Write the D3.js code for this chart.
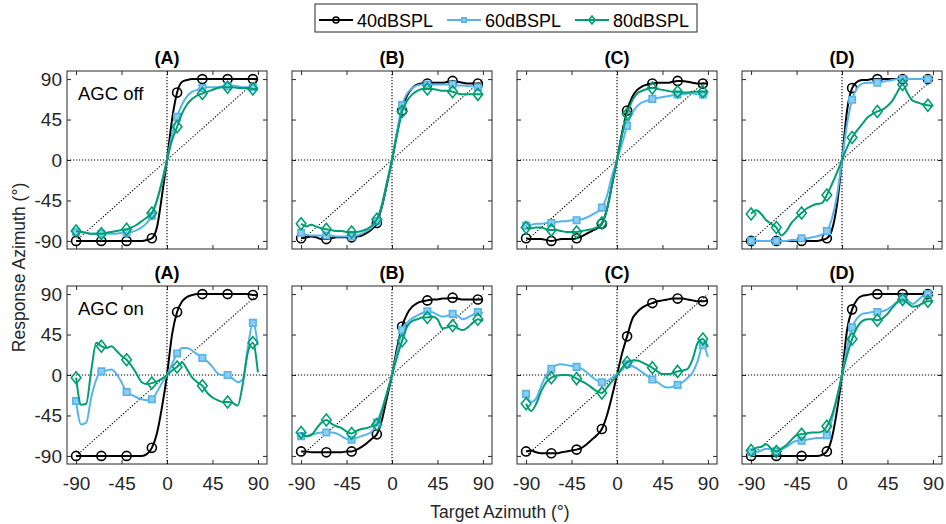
<!DOCTYPE html>
<html>
<head>
<meta charset="utf-8">
<script src="https://cdn.jsdelivr.net/npm/d3@7"></script>
<style>
  body { margin: 0; background: #fff; }
  svg { font-family: "Liberation Sans", Arial, Helvetica, sans-serif; }
</style>
</head>
<body>
<div class="chart"></div>
<script>
// target azimuth grid (deg) and the points that carry a marker
const azimuth = [-90,-85,-80,-75,-70,-65,-60,-55,-50,-45,-40,-35,-30,-25,-20,-15,-10,-5,0,5,10,15,20,25,30,35,40,45,50,55,60,65,70,75,80,85,90];
const markerAzimuth = [-90,-65,-40,-15,10,35,60,85];
const tickValues = [-90,-45,0,45,90];

const panelLabels = ['(A)','(B)','(C)','(D)'];
const rowLabels = ['AGC off','AGC on'];
const seriesNames = ['40dBSPL','60dBSPL','80dBSPL'];

// AGC off
const offA40 = [-90,-90,-90,-90,-90,-90,-90,-90,-90,-90,-90,-90,-90,-90,-89,-87,-75,-40,0,45,75,87,89,90,90,90,90,90,90,90,90,90,90,90,90,90,90];
const offA60 = [-80,-80,-81,-82,-82,-82,-82,-82,-82,-81,-81,-80,-78,-75,-70,-62,-45,-25,0,28,48,62,71,76,78,80,81,81,81,82,82,83,82,81,81,81,81];
const offA80 = [-79,-80,-81,-82,-82,-82,-81,-80,-79,-78,-77,-75,-72,-68,-64,-59,-45,-24,0,22,37,52,62,68,72,74,76,78,80,81,81,81,80,80,80,79,79];

const offB40 = [-87,-86,-85,-86,-88,-88,-87,-86,-86,-86,-86,-85,-84,-81,-77,-70,-52,-27,0,30,55,72,80,84,85,85,86,86,86,87,88,87,86,85,85,85,85];
const offB60 = [-81,-83,-84,-84,-84,-84,-84,-85,-85,-85,-85,-84,-82,-79,-75,-68,-50,-25,0,32,61,74,80,83,84,84,84,84,84,84,84,83,83,82,82,81,81];
const offB80 = [-71,-74,-72,-74,-76,-77,-78,-79,-79,-80,-80,-80,-79,-77,-73,-66,-50,-25,0,28,54,66,73,77,79,79,79,78,77,77,76,74,73,73,73,73,73];

const offC40 = [-87,-88,-88,-88,-89,-90,-89,-88,-88,-88,-87,-85,-82,-79,-76,-71,-55,-28,0,30,55,70,78,82,84,85,86,86,86,87,88,88,87,86,85,85,85];
const offC60 = [-73,-72,-71,-71,-70,-70,-69,-68,-68,-67,-67,-66,-64,-61,-58,-53,-40,-18,0,18,38,52,60,64,66,68,69,70,71,72,73,73,74,74,73,73,73];
const offC80 = [-75,-76,-75,-75,-77,-78,-78,-79,-80,-80,-80,-79,-78,-77,-75,-70,-55,-28,0,28,51,66,74,77,79,80,79,78,77,76,76,75,75,76,76,76,76];

const offD40 = [-90,-90,-90,-90,-90,-90,-90,-90,-90,-90,-90,-90,-90,-90,-89,-87,-78,-50,0,55,80,87,89,89,90,90,90,90,90,90,90,90,90,90,90,90,90];
const offD60 = [-90,-90,-90,-90,-90,-90,-90,-90,-89,-89,-87,-87,-86,-85,-83,-79,-65,-40,0,40,67,80,85,86,86,86,87,88,89,90,90,90,90,90,90,90,90];
const offD80 = [-60,-56,-60,-67,-71,-75,-84,-79,-70,-64,-59,-54,-51,-49,-48,-39,-27,-14,0,14,25,33,40,47,51,54,56,60,66,76,84,74,66,64,62,61,60];

// AGC on
const onA40 = [-90,-90,-90,-90,-90,-90,-90,-90,-90,-90,-90,-90,-90,-90,-88,-81,-65,-36,0,45,70,82,87,89,90,90,90,90,90,90,90,90,90,90,90,89,89];
const onA60 = [-29,-55,-53,-25,-5,4,5,6,1,-8,-19,-22,-25,-27,-28,-27,-19,-9,0,12,24,30,30,27,23,19,15,9,2,0,0,-4,-8,-5,30,58,33];
const onA80 = [-3,-33,-32,5,36,32,30,32,27,21,17,10,1,-8,-10,-9,-7,-4,0,5,9,14,6,-3,-8,-12,-20,-25,-28,-30,-30,-31,-34,-10,25,36,3];

const onB40 = [-85,-85,-86,-86,-86,-86,-86,-86,-86,-85,-85,-83,-80,-76,-71,-66,-50,-25,0,30,54,68,76,80,82,83,84,84,85,85,86,85,84,84,84,84,84];
const onB60 = [-68,-68,-66,-65,-64,-64,-64,-65,-68,-71,-72,-70,-68,-66,-63,-53,-38,-20,0,25,50,58,63,66,69,71,70,67,65,66,68,66,62,64,67,70,69];
const onB80 = [-64,-68,-67,-60,-53,-50,-54,-57,-59,-63,-65,-62,-60,-59,-57,-55,-40,-20,0,20,38,54,60,62,64,64,65,62,52,53,55,52,50,53,58,62,60];

const onC40 = [-85,-84,-86,-87,-87,-87,-87,-86,-85,-84,-83,-81,-77,-72,-67,-60,-45,-24,0,24,43,62,70,75,78,80,82,83,84,85,85,85,84,83,82,82,83];
const onC60 = [-21,-30,-26,-12,0,7,11,12,11,10,9,7,3,-2,-6,-8,-7,-3,1,6,12,10,7,3,-1,-5,-8,-12,-14,-13,-11,-8,-3,3,16,33,20];
const onC80 = [-32,-40,-32,-18,-8,-3,-1,0,0,-1,-4,-7,-10,-14,-18,-20,-14,-7,-1,8,14,16,16,14,11,8,4,1,1,2,4,5,7,18,36,40,31];

const onD40 = [-90,-90,-90,-90,-90,-90,-90,-90,-90,-90,-90,-90,-90,-90,-89,-85,-70,-40,0,50,73,84,88,89,90,90,90,90,90,90,90,90,90,90,90,90,90];
const onD60 = [-86,-86,-84,-82,-83,-85,-83,-80,-76,-73,-73,-72,-71,-70,-70,-67,-50,-25,0,30,53,63,68,69,70,70,71,73,77,82,85,83,79,83,88,90,90];
const onD80 = [-84,-81,-80,-77,-82,-85,-82,-78,-72,-67,-66,-65,-64,-64,-63,-57,-45,-25,0,22,40,53,60,62,62,61,63,68,75,81,84,80,76,77,80,82,82];

const grid = [
    [[offA40,offA60,offA80],[offB40,offB60,offB80],[offC40,offC60,offC80],[offD40,offD60,offD80]],
    [[onA40,onA60,onA80],[onB40,onB60,onB80],[onC40,onC60,onC80],[onD40,onD60,onD80]]
];

const colors = ['#000000','#56B4E9','#009E73'];
const markerFill = ['none','#8ccdf0','none'];

// MATLAB-like diamond: a bit wider than d3's
const wideDiamond = {
    draw(ctx, size)
    {
        const h = Math.sqrt(size) * 0.75, w = h * 0.8;
        ctx.moveTo(0, -h);
        ctx.lineTo(w, 0);
        ctx.lineTo(0, h);
        ctx.lineTo(-w, 0);
        ctx.closePath();
    }
};
const symbols = [d3.symbolCircle, d3.symbolSquare, wideDiamond];
const symbolSizes = [64, 42, 64];

const W = 946, H = 524;
const plotW = 200, plotH = 178, pitchX = 225;
const colLeft = 67;
const rowTop = [71, 286];
const axisColor = '#262626';
const tickFont = 19;

const svg = d3.select('.chart').append('svg')
    .attr('width', W)
    .attr('height', H);

const x = d3.scaleLinear().domain([-99, 99]).range([0, plotW]);
const y = d3.scaleLinear().domain([-99, 99]).range([plotH, 0]);

const line = d3.line()
    .x(d => x(d[0]))
    .y(d => y(d[1]))
    .curve(d3.curveMonotoneX);

function drawPanel(row, col)
{
    const g = svg.append('g')
        .attr('transform', `translate(${colLeft + col * pitchX},${rowTop[row]})`);

    // ticks on all four sides, pointing inward
    const left = d3.axisLeft(y).tickValues(tickValues).tickSize(-4).tickPadding(5)
        .tickFormat(col === 0 ? d => String(d) : '');
    const right = d3.axisRight(y).tickValues(tickValues).tickSize(-4).tickFormat('');
    const bottom = d3.axisBottom(x).tickValues(tickValues).tickSize(-4)
        .tickFormat(row === 1 ? d => String(d) : '');
    const top = d3.axisTop(x).tickValues(tickValues).tickSize(-4).tickFormat('');

    g.append('g').call(left);
    g.append('g').attr('transform', `translate(${plotW},0)`).call(right);
    g.append('g').attr('transform', `translate(0,${plotH})`).call(bottom)
        .selectAll('text').attr('y', 26).attr('dy', null);
    g.append('g').call(top);

    g.selectAll('.domain').remove();
    g.selectAll('.tick line').attr('stroke', axisColor);
    g.selectAll('.tick text')
        .attr('fill', axisColor)
        .attr('font-size', tickFont)
        .attr('font-family', null);

    // reference lines
    const dotted = g.append('g')
        .attr('stroke', '#000')
        .attr('stroke-width', 1.1)
        .attr('stroke-dasharray', '1.2,1.8')
        .attr('fill', 'none');
    dotted.append('line').attr('x1', x(0)).attr('x2', x(0)).attr('y1', 0).attr('y2', plotH);
    dotted.append('line').attr('x1', 0).attr('x2', plotW).attr('y1', y(0)).attr('y2', y(0));
    dotted.append('line').attr('x1', x(-90)).attr('y1', y(-90)).attr('x2', x(90)).attr('y2', y(90));

    grid[row][col].forEach((vals, s) =>
    {
        const pts = azimuth.map((a, i) => [a, vals[i]]);

        g.append('path')
            .attr('d', line(pts))
            .attr('fill', 'none')
            .attr('stroke', colors[s])
            .attr('stroke-width', 2);

        g.selectAll(`.m${s}`)
            .data(pts.filter(p => markerAzimuth.includes(p[0])))
            .enter()
            .append('path')
            .attr('class', `m${s}`)
            .attr('d', d3.symbol().type(symbols[s]).size(symbolSizes[s]))
            .attr('transform', d => `translate(${x(d[0])},${y(d[1])})`)
            .attr('fill', markerFill[s])
            .attr('stroke', colors[s])
            .attr('stroke-width', 1.6);
    });

    g.append('rect')
        .attr('width', plotW)
        .attr('height', plotH)
        .attr('fill', 'none')
        .attr('stroke', axisColor)
        .attr('stroke-width', 1);

    g.append('text')
        .attr('x', plotW / 2)
        .attr('y', -7)
        .attr('text-anchor', 'middle')
        .attr('font-size', 18)
        .attr('font-weight', 'bold')
        .text(panelLabels[col]);

    if (col === 0)
    {
        g.append('text')
            .attr('x', 11)
            .attr('y', 29)
            .attr('font-size', 18.5)
            .text(rowLabels[row]);
    }
}

for (let r = 0; r < 2; r++)
    for (let c = 0; c < 4; c++)
        drawPanel(r, c);

// axis titles
svg.append('text')
    .attr('x', 500)
    .attr('y', 518)
    .attr('text-anchor', 'middle')
    .attr('font-size', 17.5)
    .attr('fill', axisColor)
    .text('Target Azimuth (°)');

svg.append('text')
    .attr('transform', `translate(25,${(rowTop[0] + rowTop[1] + plotH) / 2}) rotate(-90)`)
    .attr('text-anchor', 'middle')
    .attr('font-size', 17.5)
    .attr('fill', axisColor)
    .text('Response Azimuth (°)');

// legend
const legend = svg.append('g').attr('transform', 'translate(315,4)');
legend.append('rect')
    .attr('width', 382)
    .attr('height', 28)
    .attr('fill', '#fff')
    .attr('stroke', axisColor)
    .attr('stroke-width', 1);

seriesNames.forEach((name, s) =>
{
    const item = legend.append('g').attr('transform', `translate(${4 + s * 128},16)`);
    item.append('line')
        .attr('x1', 0).attr('x2', 34)
        .attr('stroke', colors[s])
        .attr('stroke-width', 2);
    item.append('path')
        .attr('d', d3.symbol().type(symbols[s]).size(symbolSizes[s] * 0.45))
        .attr('transform', 'translate(17,0)')
        .attr('fill', markerFill[s])
        .attr('stroke', colors[s])
        .attr('stroke-width', 1.6);
    item.append('text')
        .attr('x', 38)
        .attr('y', 6.5)
        .attr('font-size', 18)
        .text(name);
});
</script>
</body>
</html>
